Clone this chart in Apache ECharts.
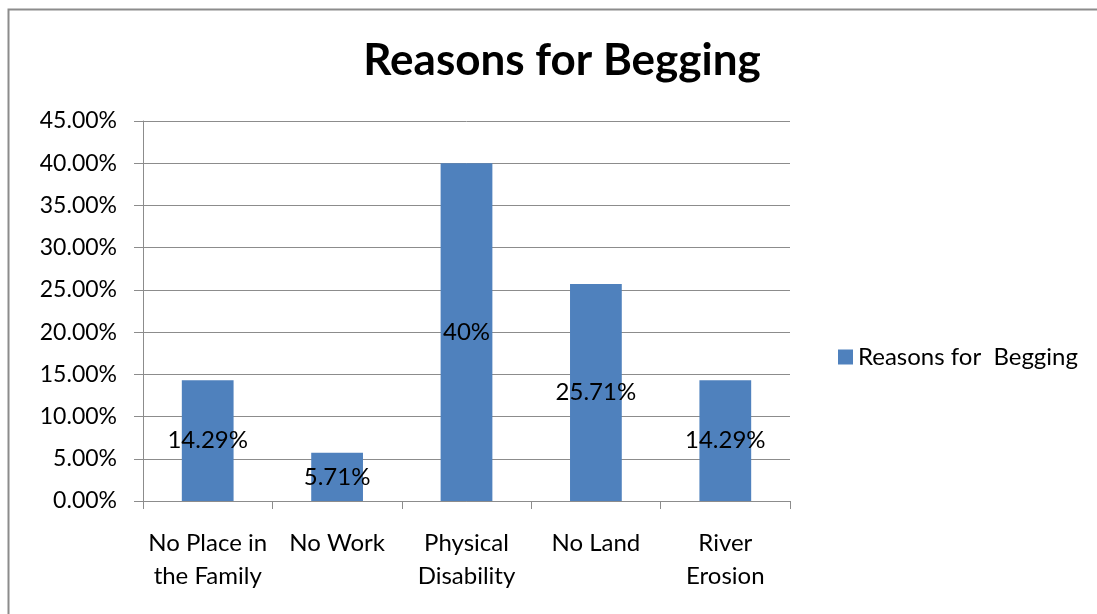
<!DOCTYPE html>
<html><head><meta charset="utf-8">
<script src="https://cdn.jsdelivr.net/npm/echarts@6/dist/echarts.min.js"></script>
<style>html,body{margin:0;padding:0;background:#fff}#c{width:1097px;height:614px}</style>
</head><body><div id="c"></div>
<script>
const categories = ['No Place in\nthe Family', 'No Work', 'Physical\nDisability', 'No Land', 'River\nErosion'];
const values = [14.29, 5.71, 40, 25.71, 14.29];
const valueLabels = ['14.29%', '5.71%', '40%', '25.71%', '14.29%'];
const seriesName = 'Reasons for  Begging';
const titleText = 'Reasons for Begging';

const FONT = 'Lato';
const chart = echarts.init(document.getElementById('c'), null, {renderer: 'canvas'});
chart.setOption({
  animation: false,
  backgroundColor: '#fff',
  textStyle: {fontFamily: FONT},
  graphic: [{type: 'rect', shape: {x: 8.5, y: 9.5, width: 1200, height: 700},
    style: {fill: 'none', stroke: '#8c8c8c', lineWidth: 2}, z: -1}],
  title: {text: titleText, left: 557, textAlign: 'center', top: 34,
    textStyle: {fontFamily: FONT, fontSize: 44, fontWeight: 'bold', color: '#000'}},
  legend: {data: [seriesName], left: 833, top: 340, itemWidth: 15, itemHeight: 15, itemGap: 6,
    icon: 'rect', textStyle: {fontFamily: FONT, fontSize: 24, color: '#000'}},
  grid: {left: 143, right: 307, top: 121, bottom: 113, containLabel: false},
  xAxis: {type: 'category', data: categories,
    axisLine: {lineStyle: {color: '#8c8c8c', width: 1}},
    axisTick: {show: true, alignWithLabel: false, length: 8, lineStyle: {color: '#8c8c8c'}},
    axisLabel: {interval: 0, margin: 26, fontFamily: FONT, fontSize: 24, color: '#000', lineHeight: 33}},
  yAxis: {type: 'value', min: 0, max: 45, interval: 5,
    axisLine: {show: true, lineStyle: {color: '#8c8c8c', width: 1}},
    axisTick: {show: true, length: 9, lineStyle: {color: '#8c8c8c'}},
    splitLine: {lineStyle: {color: '#8c8c8c', width: 1}},
    axisLabel: {margin: 26, fontFamily: FONT, fontSize: 23, color: '#000',
      formatter: v => v.toFixed(2) + '%'}},
  series: [{name: seriesName, type: 'bar', data: values, barWidth: '40%',
    itemStyle: {color: '#4f81bd'},
    label: {show: true, position: 'inside', color: '#000', fontFamily: FONT, fontSize: 24,
      formatter: p => valueLabels[p.dataIndex]}}]
});
</script></body></html>
